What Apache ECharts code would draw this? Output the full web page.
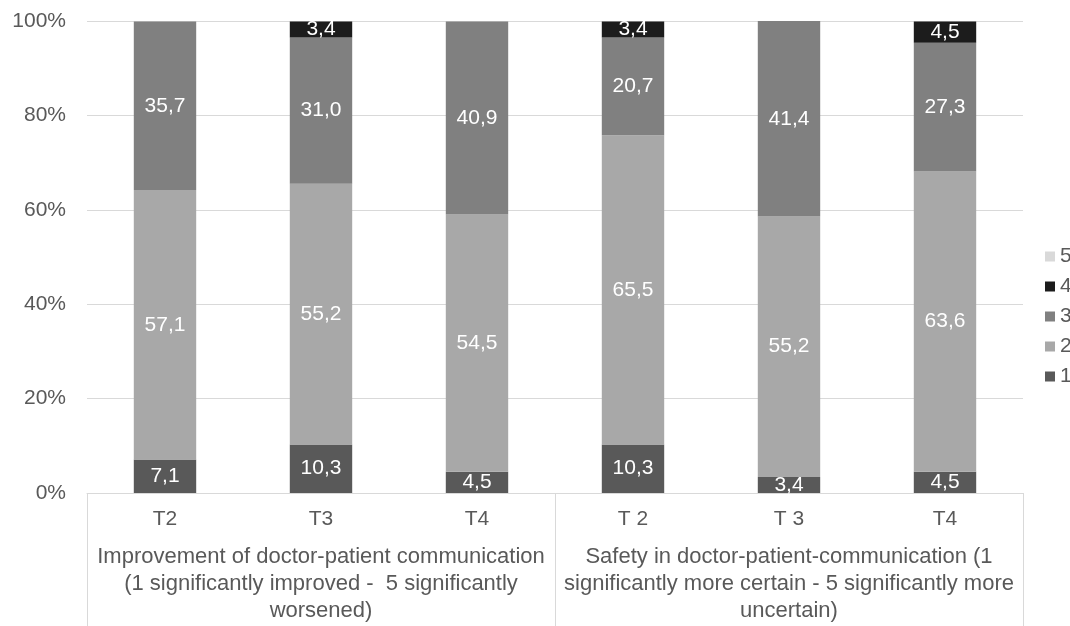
<!DOCTYPE html>
<html>
<head>
<meta charset="utf-8">
<script src="https://cdn.jsdelivr.net/npm/echarts@6/dist/echarts.min.js"></script>
<style>
  html, body { margin: 0; padding: 0; background: #fff; }
  #chart { width: 1070px; height: 626px; }
</style>
</head>
<body>
<div id="chart"></div>
<script>
// categories (time points) and groups
var categories = ['T2', 'T3', 'T4', 'T 2', 'T 3', 'T4'];
var groups = [
  'Improvement of doctor-patient communication\n(1 significantly improved -  5 significantly\nworsened)',
  'Safety in doctor-patient-communication (1\nsignificantly more certain - 5 significantly more\nuncertain)'
];
var yTicks = [0, 20, 40, 60, 80, 100];

// percentages per answer
var s1 = [7.1, 10.3, 4.5, 10.3, 3.4, 4.5];
var s2 = [57.1, 55.2, 54.5, 65.5, 55.2, 63.6];
var s3 = [35.7, 31.0, 40.9, 20.7, 41.4, 27.3];
var s4 = [0, 3.4, 0, 3.4, 0, 4.5];
var s5 = [0, 0, 0, 0, 0, 0];

var txt = '#595959';
var font = 'Liberation Sans, Arial, sans-serif';

function mk(name, data, color) {
  return {
    name: name,
    type: 'bar',
    stack: 'all',
    barWidth: '40%',
    data: data,
    itemStyle: { color: color },
    label: {
      show: true,
      color: '#fff',
      fontSize: 21,
      fontFamily: font,
      formatter: function (p) {
        return p.value > 0 ? p.value.toFixed(1).replace('.', ',') : '';
      }
    }
  };
}

var myChart = echarts.init(document.getElementById('chart'));
myChart.setOption({
  animation: false,
  textStyle: { fontFamily: font },
  grid: { left: 87, right: 47, top: 21, bottom: 133 },
  legend: {
    orient: 'vertical',
    left: 1045,
    top: 246,
    padding: 0,
    data: ['5', '4', '3', '2', '1'],
    icon: 'rect',
    itemWidth: 10,
    itemHeight: 10,
    itemGap: 9,
    itemTextGap: 4,
    textStyle: { color: txt, fontSize: 21, fontFamily: font }
  },
  xAxis: [
    {
      type: 'category',
      data: categories,
      axisLine: { lineStyle: { color: '#d9d9d9' } },
      axisTick: { show: false },
      axisLabel: { color: txt, fontSize: 21, margin: 16, fontFamily: font }
    },
    {
      type: 'category',
      position: 'bottom',
      data: groups,
      axisLine: { show: false },
      axisTick: { show: true, length: 140, lineStyle: { color: '#d9d9d9' } },
      axisLabel: { color: txt, fontSize: 22, lineHeight: 27, margin: 50, fontFamily: font, interval: 0 }
    }
  ],
  yAxis: {
    type: 'value',
    min: 0,
    max: 100,
    interval: 20,
    axisLine: { show: false },
    axisTick: { show: false },
    splitLine: { lineStyle: { color: '#d9d9d9' } },
    axisLabel: {
      color: txt, fontSize: 21, margin: 21, fontFamily: font,
      formatter: function (v) { return yTicks.indexOf(v) >= 0 ? v + '%' : ''; }
    }
  },
  series: [
    mk('1', s1, '#595959'),
    mk('2', s2, '#a8a8a8'),
    mk('3', s3, '#808080'),
    mk('4', s4, '#1c1c1c'),
    mk('5', s5, '#d9d9d9')
  ]
});
</script>
</body>
</html>
